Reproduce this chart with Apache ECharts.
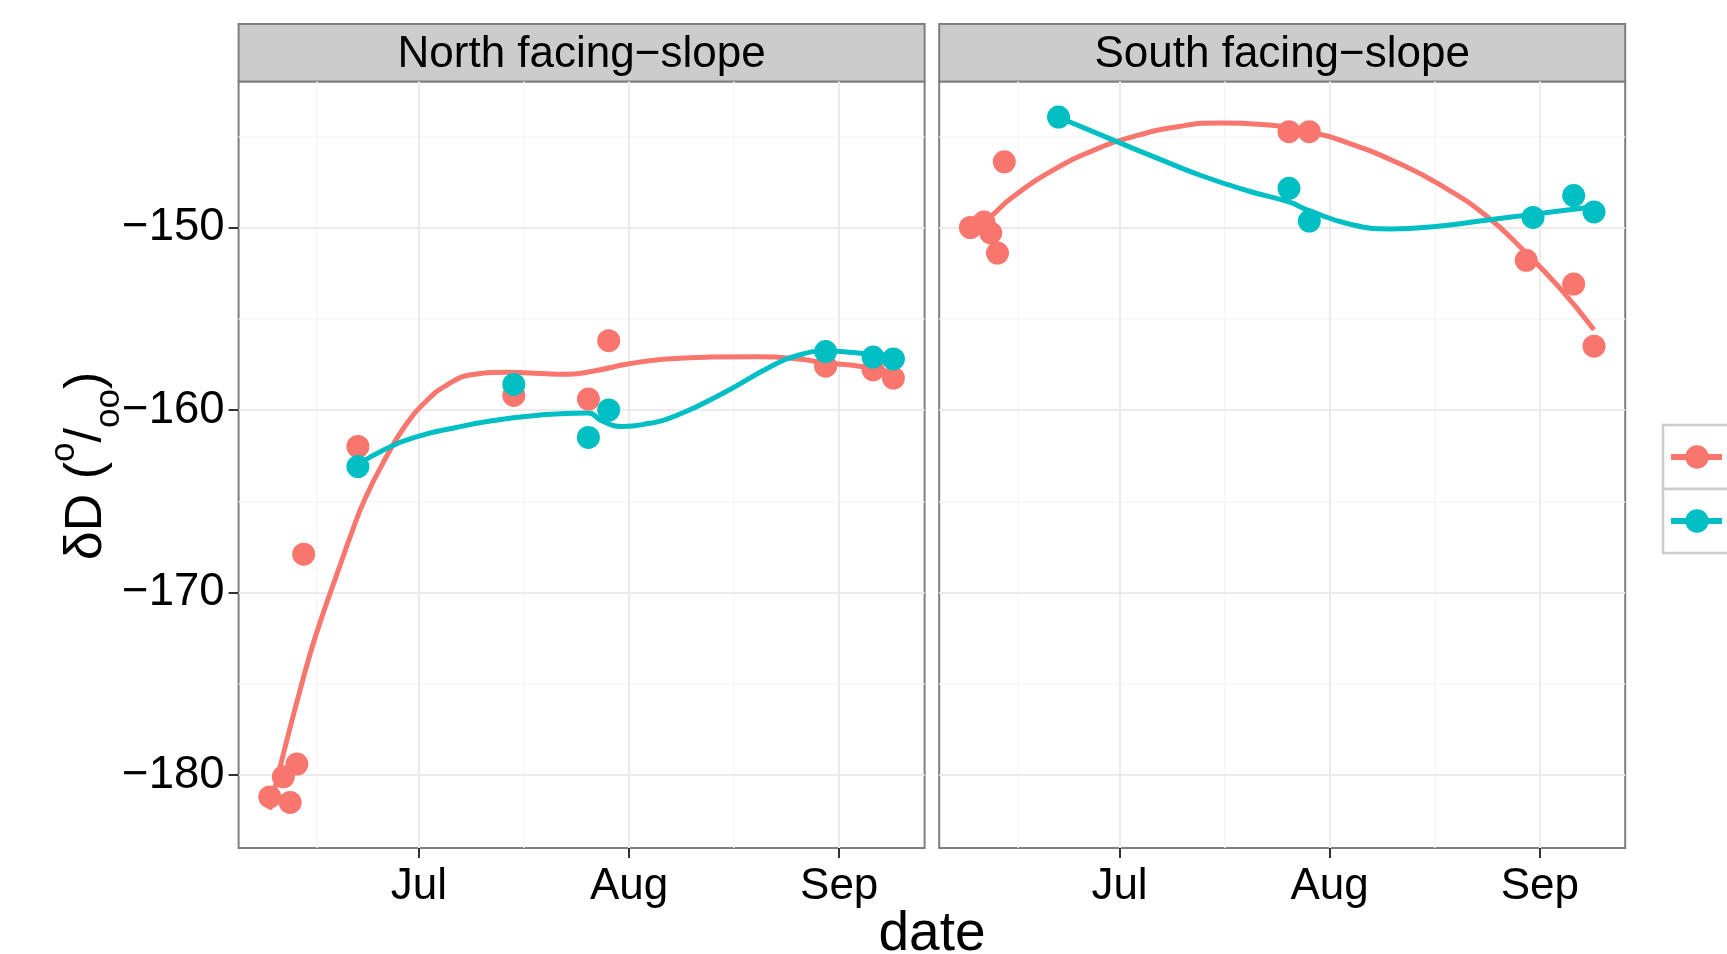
<!DOCTYPE html>
<html>
<head>
<meta charset="utf-8">
<script src="https://cdn.jsdelivr.net/npm/echarts@6/dist/echarts.min.js"></script>
<style>
  html, body { margin: 0; padding: 0; background: #fff; }
  #chart { width: 1727px; height: 954px; }
</style>
</head>
<body>
<div id="chart"></div>
<script>
// observed dD values (per mil)
var northRedDates = ['2013-06-09', '2013-06-11', '2013-06-12', '2013-06-13', '2013-06-14', '2013-06-22', '2013-07-15', '2013-07-26', '2013-07-29', '2013-08-30', '2013-09-06', '2013-09-09'];
var northRedValues = [-181.2, -180.1, -181.5, -179.4, -167.9, -162.0, -159.2, -159.4, -156.2, -157.6, -157.8, -158.25];
var northBlueDates = ['2013-06-22', '2013-07-15', '2013-07-26', '2013-07-29', '2013-08-30', '2013-09-06', '2013-09-09'];
var northBlueValues = [-163.1, -158.6, -161.5, -160.0, -156.8, -157.1, -157.2];
var southRedDates = ['2013-06-09', '2013-06-11', '2013-06-12', '2013-06-13', '2013-06-14', '2013-07-26', '2013-07-29', '2013-08-30', '2013-09-06', '2013-09-09'];
var southRedValues = [-150.0, -149.7, -150.3, -151.4, -146.4, -144.75, -144.75, -151.8, -153.1, -156.5];
var southBlueDates = ['2013-06-22', '2013-07-26', '2013-07-29', '2013-08-31', '2013-09-06', '2013-09-09'];
var southBlueValues = [-143.95, -147.85, -149.65, -149.45, -148.25, -149.15];

// smoothed curves
var northRedFitDates = ['2013-06-09', '2013-06-11', '2013-06-13', '2013-06-15', '2013-06-17', '2013-06-19', '2013-06-21', '2013-06-23', '2013-06-26', '2013-06-29', '2013-07-02', '2013-07-05', '2013-07-09', '2013-07-14', '2013-07-20', '2013-07-23', '2013-07-27', '2013-08-01', '2013-08-06', '2013-08-13', '2013-08-20', '2013-08-26', '2013-08-30', '2013-09-04', '2013-09-09'];
var northRedFitValues = [-181.9, -178.85, -176.0, -173.3, -171.0, -168.9, -166.8, -164.9, -162.7, -160.85, -159.55, -158.66, -158.05, -157.93, -158.02, -158.04, -157.85, -157.47, -157.22, -157.1, -157.08, -157.2, -157.42, -157.6, -157.95];
var northBlueFitDates = ['2013-06-22', '2013-06-26', '2013-07-01', '2013-07-06', '2013-07-12', '2013-07-19', '2013-07-26', '2013-07-28', '2013-07-31', '2013-08-03', '2013-08-08', '2013-08-15', '2013-08-22', '2013-08-26', '2013-08-30', '2013-09-03', '2013-09-06', '2013-09-09'];
var northBlueFitValues = [-163.0, -162.15, -161.43, -161.0, -160.58, -160.27, -160.16, -160.6, -160.9, -160.8, -160.3, -159.05, -157.6, -157.0, -156.77, -156.85, -156.97, -157.16];
var southRedFitDates = ['2013-06-09', '2013-06-12', '2013-06-15', '2013-06-21', '2013-06-27', '2013-07-03', '2013-07-10', '2013-07-16', '2013-07-22', '2013-07-29', '2013-08-04', '2013-08-11', '2013-08-17', '2013-08-24', '2013-08-30', '2013-09-04', '2013-09-09'];
var southRedFitValues = [-150.3, -149.4, -148.4, -146.9, -145.8, -145.02, -144.45, -144.27, -144.35, -144.76, -145.4, -146.45, -147.6, -149.33, -151.4, -153.34, -155.6];
var southBlueFitDates = ['2013-06-22', '2013-06-30', '2013-07-07', '2013-07-13', '2013-07-20', '2013-07-26', '2013-07-29', '2013-08-04', '2013-08-10', '2013-08-17', '2013-08-24', '2013-08-31', '2013-09-06', '2013-09-09'];
var southBlueFitValues = [-143.96, -145.2, -146.27, -147.15, -148.0, -148.6, -149.08, -149.82, -150.08, -149.93, -149.6, -149.28, -149.0, -148.88];

var panelTitles = ['North facing\u2212slope', 'South facing\u2212slope'];
var monthNames = ['Jan', 'Feb', 'Mar', 'Apr', 'May', 'Jun', 'Jul', 'Aug', 'Sep', 'Oct', 'Nov', 'Dec'];
var xTickDates = ['2013-07-01', '2013-08-01', '2013-09-01'];
var xMinorDates = ['2013-06-16', '2013-07-16 12', '2013-08-16 12'];
var yTicks = [-180, -170, -160, -150];
var yMinorTicks = [-175, -165, -155, -145];

var RED = '#F8766D';
var BLUE = '#00BFC4';
var FONT = '"Liberation Sans", Arial, Helvetica, sans-serif';
var DAY = 86400000;

// 'YYYY-MM-DD' or 'YYYY-MM-DD HH' -> local timestamp
function toTime(s) {
    var p = s.split(/[- ]/).map(Number);
    return new Date(p[0], p[1] - 1, p[2], p[3] || 0).getTime();
}

var jul1 = toTime('2013-07-01');
var xTicks = xTickDates.map(toTime);
var xMinorTicks = xMinorDates.map(toTime);
var xMin = jul1 - 26.6 * DAY;
var xMax = jul1 + 74.6 * DAY;

var gridLeft = [238.6, 939.2];
var gridTop = 81.5;
var gridW = 686;
var gridH = 766.5;

function pairs(dates, values) {
    return dates.map(function (d, i) { return [toTime(d), values[i]]; });
}

function majorX(g) {
    return {
        type: 'value', gridIndex: g, min: xMin, max: xMax, z: 1,
        axisLine: { show: false },
        axisTick: { show: true, customValues: xTicks, length: 10, lineStyle: { color: '#333', width: 2 } },
        axisLabel: {
            customValues: xTicks, fontSize: 44, color: '#000', fontFamily: FONT, margin: 17,
            formatter: function (v) { return monthNames[new Date(v).getMonth()]; }
        },
        splitLine: { show: true, lineStyle: { color: '#ebebeb', width: 2 } }
    };
}
function minorX(g) {
    return {
        type: 'value', gridIndex: g, min: xMin, max: xMax, z: 0,
        axisLine: { show: false },
        axisTick: { show: false, customValues: xMinorTicks },
        axisLabel: { show: false },
        splitLine: { show: true, lineStyle: { color: '#f6f6f6', width: 1.5 } }
    };
}
function majorY(g, labels) {
    return {
        type: 'value', gridIndex: g, min: -184, max: -142, z: 1,
        axisLine: { show: false },
        axisTick: { show: labels, customValues: yTicks, length: 10, lineStyle: { color: '#333', width: 2 } },
        axisLabel: {
            show: labels, customValues: yTicks, fontSize: 45.5, color: '#000', fontFamily: FONT, margin: 14,
            formatter: function (v) { return String(v).replace('-', '\u2212'); }
        },
        splitLine: { show: true, lineStyle: { color: '#ebebeb', width: 2 } }
    };
}
function minorY(g) {
    return {
        type: 'value', gridIndex: g, min: -184, max: -142, z: 0,
        axisLine: { show: false },
        axisTick: { show: false, customValues: yMinorTicks },
        axisLabel: { show: false },
        splitLine: { show: true, lineStyle: { color: '#f6f6f6', width: 1.5 } }
    };
}
function fitLine(g, dates, values, color) {
    return {
        type: 'line', xAxisIndex: g, yAxisIndex: g, z: 2,
        data: pairs(dates, values), smooth: 0.5, showSymbol: false, symbol: 'none',
        lineStyle: { color: color, width: 5 }, silent: true
    };
}
function dots(g, dates, values, color, z) {
    return {
        type: 'scatter', xAxisIndex: g, yAxisIndex: g, z: z,
        data: pairs(dates, values), symbolSize: 23,
        itemStyle: { color: color, opacity: 1 }, silent: true
    };
}

var graphics = [];
panelTitles.forEach(function (t, i) {
    graphics.push({
        type: 'rect', shape: { x: gridLeft[i], y: 24, width: gridW, height: gridTop - 24 },
        style: { fill: '#cccccc', stroke: '#7f7f7f', lineWidth: 2 }
    });
    graphics.push({
        type: 'text', x: gridLeft[i] + gridW / 2, y: 55,
        style: { text: t, fill: '#000', font: '44px ' + FONT, align: 'center', verticalAlign: 'middle' }
    });
});
// axis titles
graphics.push({
    type: 'text', x: 932, y: 935,
    style: { text: 'date', fill: '#000', font: '55px ' + FONT, align: 'center', verticalAlign: 'middle' }
});
graphics.push({
    type: 'text', x: 87, y: 466, rotation: Math.PI / 2,
    style: {
        text: '{m|\u03b4D (}{p|o}{m|/}{b|oo}{m|)}', align: 'center', verticalAlign: 'middle',
        rich: {
            m: { fontSize: 52, fontFamily: FONT, fill: '#000', lineHeight: 80 },
            p: { fontSize: 35, fontFamily: FONT, fill: '#000', verticalAlign: 'top' },
            b: { fontSize: 35, fontFamily: FONT, fill: '#000', verticalAlign: 'bottom' }
        }
    }
});
// legend keys (labels fall outside the picture)
[RED, BLUE].forEach(function (c, i) {
    var top = 425 + i * 64;
    graphics.push({ type: 'rect', shape: { x: 1663, y: top, width: 80, height: 64 }, style: { fill: '#fff', stroke: '#cccccc', lineWidth: 2.5 } });
    graphics.push({ type: 'line', shape: { x1: 1671, y1: top + 32, x2: 1722, y2: top + 32 }, style: { stroke: c, lineWidth: 6 } });
    graphics.push({ type: 'circle', shape: { cx: 1697, cy: top + 32, r: 11.7 }, style: { fill: c } });
});

var chart = echarts.init(document.getElementById('chart'), null, { renderer: 'canvas' });
chart.setOption({
    animation: false,
    backgroundColor: '#fff',
    textStyle: { fontFamily: FONT },
    grid: gridLeft.map(function (l) {
        return { left: l, top: gridTop, width: gridW, height: gridH, show: true, borderColor: '#7f7f7f', borderWidth: 2, backgroundColor: 'transparent' };
    }),
    xAxis: [majorX(0), majorX(1), minorX(0), minorX(1)],
    yAxis: [majorY(0, true), majorY(1, false), minorY(0), minorY(1)],
    series: [
        fitLine(0, northRedFitDates, northRedFitValues, RED),
        fitLine(0, northBlueFitDates, northBlueFitValues, BLUE),
        dots(0, northRedDates, northRedValues, RED, 3),
        dots(0, northBlueDates, northBlueValues, BLUE, 4),
        fitLine(1, southRedFitDates, southRedFitValues, RED),
        fitLine(1, southBlueFitDates, southBlueFitValues, BLUE),
        dots(1, southRedDates, southRedValues, RED, 3),
        dots(1, southBlueDates, southBlueValues, BLUE, 4)
    ],
    graphic: graphics
});
</script>
</body>
</html>
